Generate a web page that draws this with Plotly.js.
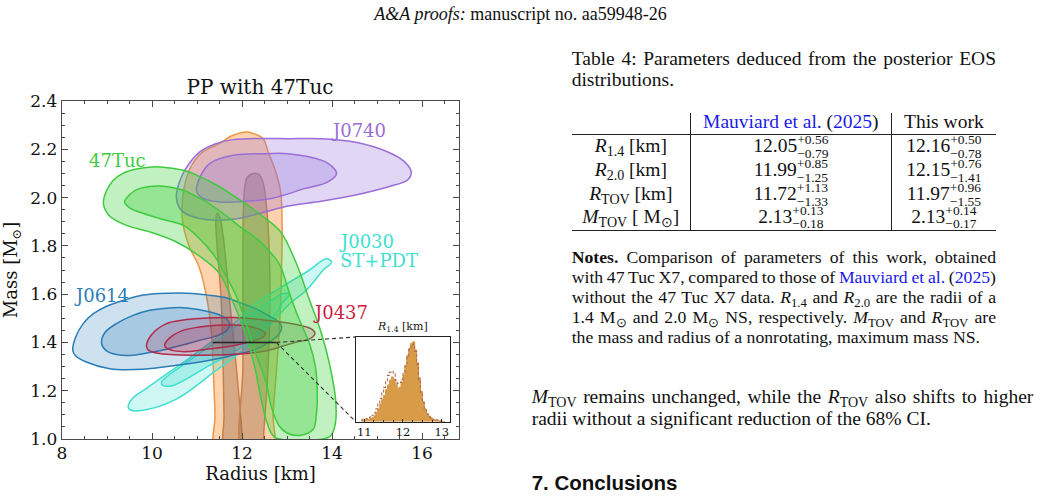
<!DOCTYPE html>
<html>
<head>
<meta charset="utf-8">
<script src="https://cdn.plot.ly/plotly-3.0.1.min.js"></script>
<style>
  html, body { margin: 0; padding: 0; background: #fff; }
  #page { position: relative; width: 1049px; height: 500px; overflow: hidden; background: #fff; }
  #chart { position: absolute; left: 0; top: 0; width: 1049px; height: 500px; }
  .txt { position: absolute; font-family: "Liberation Serif", "Times New Roman", serif; color: #111; white-space: nowrap; z-index: 2; }
  .center { text-align: center; }
  .sans { font-family: "Liberation Sans", Arial, sans-serif; font-weight: bold; }
  .txt sub { font-size: 0.72em; line-height: 0; vertical-align: -0.28em; }
  .link { color: #1a1ae6; }
  .rule { position: absolute; background: #222; z-index: 2; }
  .cell { position: absolute; display: flex; justify-content: center; align-items: center; height: 30px;
          font-family: "Liberation Serif", "Times New Roman", serif; color: #111; white-space: nowrap; z-index: 2; }
  .cell .stack { display: inline-flex; flex-direction: column; font-size: 13.5px; line-height: 13.2px; margin-top: 1px; }
</style>
</head>
<body>
<div id="page"><div id="chart"></div></div>
<script>
// ---------- Mass-radius credible regions (radius in km, mass in solar masses) ----------
// EOS posterior, 95% region
const eosOuterR = [11.42, 11.40, 11.37, 11.32, 11.22, 11.05, 10.82, 10.68, 10.68, 10.75, 10.88, 11.13, 11.43, 11.80, 12.10, 12.30, 12.47, 12.58, 12.76, 12.86, 12.89, 12.88, 12.83, 12.75, 12.69, 12.67];
const eosOuterM = [0.95, 1.10, 1.24, 1.44, 1.58, 1.71, 1.80, 1.90, 2.00, 2.07, 2.133, 2.19, 2.217, 2.258, 2.272, 2.262, 2.244, 2.19, 2.10, 2.02, 1.88, 1.72, 1.46, 1.25, 1.10, 0.95];
// EOS posterior, 68% region (two lobes)
const eosInnerLeftR = [11.45, 11.52, 11.58, 11.65, 11.73, 11.82, 11.92, 12.00, 12.02, 11.62, 11.60, 11.58, 11.54, 11.48, 11.43, 11.42];
const eosInnerLeftM = [1.935, 1.91, 1.84, 1.72, 1.56, 1.40, 1.20, 1.02, 0.95, 0.95, 1.10, 1.30, 1.56, 1.72, 1.84, 1.91];
const eosInnerRightR = [12.25, 12.38, 12.47, 12.55, 12.60, 12.62, 12.60, 12.55, 12.48, 12.46, 12.02, 12.02, 12.02, 12.03, 12.06, 12.12];
const eosInnerRightM = [2.10, 2.095, 2.06, 1.95, 1.80, 1.60, 1.40, 1.20, 1.02, 0.95, 0.95, 1.30, 1.74, 1.95, 2.04, 2.085];

// 47 Tuc X7
const tucOuterR = [8.92, 8.98, 9.13, 9.35, 9.65, 10.00, 10.35, 10.70, 11.05, 11.45, 11.95, 12.40, 12.85, 13.20, 13.50, 13.76, 13.95, 14.08, 14.07, 13.95, 13.30, 12.72, 12.55, 12.43, 12.28, 12.05, 11.78, 11.50, 11.06, 10.50, 9.95, 9.43, 9.05];
const tucOuterM = [1.975, 2.025, 2.07, 2.10, 2.118, 2.127, 2.124, 2.113, 2.088, 2.05, 1.99, 1.93, 1.86, 1.73, 1.575, 1.44, 1.305, 1.16, 1.06, 1.01, 0.995, 1.008, 1.07, 1.16, 1.30, 1.45, 1.575, 1.685, 1.757, 1.82, 1.858, 1.885, 1.925];
const tucInnerR = [9.39, 9.50, 9.65, 9.90, 10.17, 10.45, 10.69, 10.95, 11.21, 11.58, 11.95, 12.32, 12.60, 12.84, 13.06, 13.26, 13.50, 13.63, 13.67, 13.65, 13.58, 13.28, 13.00, 12.82, 12.65, 12.54, 12.28, 11.91, 11.60, 11.36, 11.00, 10.70, 10.17, 9.80, 9.52];
const tucInnerM = [1.982, 2.012, 2.032, 2.045, 2.048, 2.042, 2.03, 2.008, 1.982, 1.934, 1.88, 1.83, 1.78, 1.72, 1.60, 1.50, 1.395, 1.30, 1.20, 1.10, 1.04, 1.015, 1.025, 1.055, 1.133, 1.23, 1.367, 1.575, 1.69, 1.765, 1.84, 1.885, 1.913, 1.935, 1.955];

// PSR J0740+6620
const j0740OuterR = [10.54, 10.60, 10.75, 11.06, 11.40, 11.80, 12.40, 13.02, 13.76, 14.50, 15.24, 15.60, 15.76, 15.69, 15.24, 14.50, 13.76, 13.02, 12.40, 11.80, 11.06, 10.65];
const j0740OuterM = [2.002, 2.06, 2.12, 2.189, 2.222, 2.24, 2.245, 2.244, 2.244, 2.23, 2.189, 2.15, 2.106, 2.075, 2.044, 2.01, 1.985, 1.965, 1.935, 1.91, 1.913, 1.947];
const j0740InnerR = [10.99, 11.08, 11.28, 11.80, 12.54, 13.02, 13.76, 14.02, 14.10, 13.91, 13.39, 12.65, 12.10, 11.50, 11.10];
const j0740InnerM = [2.03, 2.09, 2.141, 2.175, 2.182, 2.182, 2.155, 2.125, 2.099, 2.065, 2.037, 1.996, 1.985, 1.982, 2.0];

// PSR J0030+0451 (ST+PDT)
const j0030OuterR = [13.99, 13.80, 13.43, 13.06, 12.24, 11.43, 10.54, 9.80, 9.52, 9.47, 9.55, 9.87, 10.39, 10.76, 11.65, 12.32, 12.90, 13.50, 13.87];
const j0030OuterM = [1.733, 1.699, 1.616, 1.56, 1.40, 1.285, 1.165, 1.119, 1.12, 1.133, 1.165, 1.209, 1.278, 1.326, 1.45, 1.561, 1.632, 1.70, 1.747];
const j0030InnerR = [13.06, 12.90, 12.76, 12.10, 11.21, 10.47, 10.24, 10.21, 10.32, 10.62, 11.36, 12.24, 12.91];
const j0030InnerM = [1.60, 1.565, 1.519, 1.395, 1.298, 1.222, 1.222, 1.235, 1.257, 1.298, 1.395, 1.519, 1.602];

// PSR J0614-3329
const j0614OuterR = [8.24, 8.30, 8.47, 8.69, 8.99, 9.43, 9.80, 10.17, 10.60, 10.91, 11.21, 11.65, 11.95, 12.30, 12.60, 12.82, 12.88, 12.80, 12.50, 12.24, 11.80, 11.28, 10.54, 9.80, 9.06, 8.54, 8.30];
const j0614OuterM = [1.367, 1.42, 1.478, 1.518, 1.55, 1.578, 1.596, 1.603, 1.605, 1.603, 1.597, 1.585, 1.565, 1.54, 1.51, 1.485, 1.462, 1.43, 1.39, 1.367, 1.347, 1.326, 1.305, 1.289, 1.291, 1.319, 1.345];
const j0614InnerR = [8.88, 8.95, 9.21, 9.58, 9.95, 10.32, 10.69, 11.06, 11.43, 11.65, 11.73, 11.65, 11.40, 11.06, 10.70, 10.32, 9.95, 9.58, 9.21, 8.99];
const j0614InnerM = [1.395, 1.44, 1.478, 1.512, 1.533, 1.542, 1.544, 1.535, 1.519, 1.498, 1.475, 1.448, 1.425, 1.409, 1.39, 1.372, 1.358, 1.347, 1.35, 1.365];

// PSR J0437-4715
const j0437OuterR = [9.88, 9.98, 10.32, 10.70, 11.06, 11.80, 12.54, 13.28, 13.55, 13.62, 13.50, 13.21, 12.91, 12.54, 12.17, 11.06, 10.17, 9.95];
const j0437OuterM = [1.381, 1.43, 1.478, 1.493, 1.499, 1.503, 1.492, 1.471, 1.455, 1.437, 1.415, 1.402, 1.385, 1.365, 1.355, 1.347, 1.354, 1.365];
const j0437InnerR = [10.28, 10.40, 10.69, 11.06, 11.43, 11.80, 12.17, 12.42, 12.52, 12.45, 12.02, 11.60, 11.21, 10.80, 10.50, 10.33];
const j0437InnerM = [1.388, 1.42, 1.45, 1.464, 1.471, 1.472, 1.466, 1.452, 1.437, 1.42, 1.395, 1.38, 1.372, 1.362, 1.365, 1.375];

// R_1.4 interval marked at M = 1.4
const r14LineR = [11.35, 12.76];
const r14LineM = [1.4, 1.4];

// R_1.4 histograms (bin centres in km, normalised counts)
const r14BinCentres = [10.925, 10.975, 11.025, 11.075, 11.125, 11.175, 11.225, 11.275, 11.325, 11.375, 11.425, 11.475, 11.525, 11.575, 11.625, 11.675, 11.725, 11.775, 11.825, 11.875, 11.925, 11.975, 12.025, 12.075, 12.125, 12.175, 12.225, 12.275, 12.325, 12.375, 12.425, 12.475, 12.525, 12.575, 12.625, 12.675, 12.725, 12.775, 12.825, 12.875, 12.925, 12.975, 13.025, 13.075];
const r14WithTuc = [0.01, 0.02, 0.02, 0.03, 0.03, 0.04, 0.05, 0.07, 0.11, 0.16, 0.22, 0.28, 0.33, 0.40, 0.46, 0.52, 0.56, 0.53, 0.47, 0.42, 0.43, 0.49, 0.58, 0.70, 0.83, 0.92, 0.98, 1.00, 0.90, 0.74, 0.55, 0.38, 0.25, 0.16, 0.10, 0.07, 0.05, 0.03, 0.02, 0.02, 0.01, 0.01, 0.005, 0.0];
const r14WithoutTuc = [0.02, 0.03, 0.03, 0.04, 0.05, 0.06, 0.08, 0.11, 0.16, 0.22, 0.29, 0.36, 0.43, 0.51, 0.58, 0.62, 0.63, 0.60, 0.52, 0.48, 0.49, 0.53, 0.60, 0.70, 0.80, 0.90, 0.95, 0.97, 0.88, 0.72, 0.53, 0.37, 0.24, 0.15, 0.10, 0.06, 0.04, 0.03, 0.02, 0.02, 0.01, 0.01, 0.0, 0.0];

// ---------- Table 4 values ----------
const tableRowLabels = ['<i>R</i><sub>1.4</sub> [km]', '<i>R</i><sub>2.0</sub> [km]', '<i>R</i><sub>TOV</sub> [km]', '<i>M</i><sub>TOV</sub> [ M<sub>⊙</sub>]'];
const mauviardValues = ['12.05', '11.99', '11.72', '2.13'];
const mauviardPlus = ['+0.56', '+0.85', '+1.13', '+0.13'];
const mauviardMinus = ['−0.79', '−1.25', '−1.33', '−0.18'];
const thisWorkValues = ['12.16', '12.15', '11.97', '2.13'];
const thisWorkPlus = ['+0.50', '+0.76', '+0.96', '+0.14'];
const thisWorkMinus = ['−0.78', '−1.41', '−1.55', '−0.17'];

// ---------- Plot ----------
const closed = a => a.concat([a[0]]);
function region(R, M, edge, fill) {
  return {
    type: 'scatter', mode: 'lines', x: closed(R), y: closed(M),
    fill: 'toself', fillcolor: fill,
    line: { color: edge, width: 1.5, shape: 'spline', smoothing: 1 },
    hoverinfo: 'skip', showlegend: false, xaxis: 'x', yaxis: 'y'
  };
}

const C = {
  eos: '#ee9648', eosIn: '#c4814e', tuc: '#3ecb3e', j0740: '#9a6ed6',
  j0030: '#40e0d0', j0614: '#2a7db5', j0437: '#cf1a44', j0437Edge: '#b02a4c'
};

const xRange = [8, 16.82];
const yRange = [1.0, 2.4];
const insetX = [0.7398, 0.978];
const insetY = [0.0512, 0.3018];

// inset corners expressed in main-axis data units
const cornerR = xRange[0] + insetX[0] * (xRange[1] - xRange[0]);
const cornerTopM = yRange[0] + insetY[1] * (yRange[1] - yRange[0]);
const cornerBotM = yRange[0] + insetY[0] * (yRange[1] - yRange[0]);
const r14End = r14LineR[r14LineR.length - 1];

const traces = [
  region(eosOuterR, eosOuterM, C.eos, 'rgba(255,140,40,0.38)'),
  region(eosInnerLeftR, eosInnerLeftM, C.eosIn, 'rgba(140,95,60,0.36)'),
  region(eosInnerRightR, eosInnerRightM, C.eosIn, 'rgba(140,95,60,0.36)'),
  region(j0030OuterR, j0030OuterM, C.j0030, 'rgba(64,224,208,0.25)'),
  region(j0030InnerR, j0030InnerM, C.j0030, 'rgba(64,224,208,0.28)'),
  region(j0740OuterR, j0740OuterM, C.j0740, 'rgba(147,112,219,0.28)'),
  region(j0740InnerR, j0740InnerM, C.j0740, 'rgba(147,112,219,0.28)'),
  region(j0614OuterR, j0614OuterM, C.j0614, 'rgba(31,119,180,0.22)'),
  region(j0614InnerR, j0614InnerM, C.j0614, 'rgba(31,119,180,0.22)'),
  region(j0437OuterR, j0437OuterM, C.j0437Edge, 'rgba(180,20,60,0.18)'),
  region(j0437InnerR, j0437InnerM, C.j0437Edge, 'rgba(180,20,60,0.18)'),
  region(tucOuterR, tucOuterM, C.tuc, 'rgba(50,205,50,0.30)'),
  region(tucInnerR, tucInnerM, C.tuc, 'rgba(50,205,50,0.30)'),
  { type: 'scatter', mode: 'lines', x: r14LineR, y: r14LineM, line: { color: '#222', width: 1.5 },
    hoverinfo: 'skip', showlegend: false },
  { type: 'scatter', mode: 'lines', x: [r14End, cornerR, null, r14End, cornerR], y: [1.4, cornerTopM, null, 1.4, cornerBotM],
    line: { color: '#333', width: 1.1, dash: '4px,3px' }, connectgaps: false, hoverinfo: 'skip', showlegend: false },
  { type: 'scatter', mode: 'lines', x: r14BinCentres, y: r14WithTuc, xaxis: 'x2', yaxis: 'y2',
    fill: 'tozeroy', fillcolor: 'rgba(214,150,62,0.95)', line: { color: '#d6963e', width: 1, shape: 'hvh' },
    hoverinfo: 'skip', showlegend: false },
  { type: 'scatter', mode: 'lines', x: r14BinCentres, y: r14WithoutTuc, xaxis: 'x2', yaxis: 'y2',
    line: { color: '#b06a52', width: 1.1, dash: '3px,2px', shape: 'hvh' },
    hoverinfo: 'skip', showlegend: false }
];

const axisCol = '#4a4a4a';
const serif = 'DejaVu Serif';
function label(text, x, y, color, xanchor) {
  return { text: text, x: x, y: y, xref: 'x', yref: 'y', showarrow: false, xanchor: xanchor || 'center', yanchor: 'middle',
           font: { family: serif, size: 18, color: color } };
}

const layout = {
  width: 1049, height: 500,
  margin: { l: 62, r: 590, t: 101, b: 61, pad: 0 },
  paper_bgcolor: 'rgba(0,0,0,0)', plot_bgcolor: '#fff',
  font: { family: serif, color: '#1a1a1a' },
  title: { text: 'PP with 47Tuc', font: { family: serif, size: 20, color: '#111' },
           xref: 'container', yref: 'container', x: 0.2479, y: 0.8266, xanchor: 'center', yanchor: 'middle' },
  xaxis: {
    range: xRange, tick0: 8, dtick: 2, ticks: 'inside', ticklen: 6, tickwidth: 1, tickcolor: axisCol,
    showline: true, linecolor: axisCol, linewidth: 1.3, mirror: 'allticks', showgrid: false, zeroline: false,
    tickfont: { family: serif, size: 17, color: '#111' }, ticklabelstandoff: -2,
    minor: { dtick: 0.5, ticks: 'inside', ticklen: 3, tickwidth: 1, tickcolor: axisCol, showgrid: false },
    title: { text: 'Radius [km]', font: { family: serif, size: 18, color: '#111' }, standoff: 0 },
    fixedrange: true
  },
  yaxis: {
    range: yRange, tick0: 1, dtick: 0.2, tickformat: '.1f', ticks: 'inside', ticklen: 6, tickwidth: 1, tickcolor: axisCol,
    showline: true, linecolor: axisCol, linewidth: 1.3, mirror: 'allticks', showgrid: false, zeroline: false,
    tickfont: { family: serif, size: 17, color: '#111' },
    minor: { dtick: 0.05, ticks: 'inside', ticklen: 3, tickwidth: 1, tickcolor: axisCol, showgrid: false },
    title: { text: 'Mass [M<sub>⊙</sub>]', font: { family: serif, size: 18, color: '#111' }, standoff: 8 },
    fixedrange: true
  },
  xaxis2: {
    domain: insetX, anchor: 'y2', range: [10.78, 13.22], tickvals: [11, 12, 13], ticks: 'inside', ticklen: 3,
    tickcolor: '#333', showline: true, mirror: true, linecolor: '#222', linewidth: 1, showgrid: false, zeroline: false,
    tickfont: { family: serif, size: 11.5, color: '#111' },
    minor: { dtick: 0.25, ticks: 'inside', ticklen: 2, tickcolor: '#333', showgrid: false }, fixedrange: true
  },
  yaxis2: {
    domain: insetY, anchor: 'x2', range: [0, 1.06], showticklabels: false, ticks: '', showline: true, mirror: true,
    linecolor: '#222', linewidth: 1, showgrid: false, zeroline: false, fixedrange: true
  },
  annotations: [
    label('47Tuc', 9.23, 2.155, C.tuc),
    label('J0740', 14.58, 2.276, C.j0740),
    label('J0030', 14.11, 1.816, C.j0030, 'left'),
    label('ST+PDT', 14.13, 1.740, C.j0030, 'left'),
    label('J0614', 8.88, 1.595, C.j0614),
    label('J0437', 14.19, 1.524, C.j0437),
    { text: '<i>R</i><sub>1.4</sub> [km]', xref: 'x2 domain', yref: 'y2 domain', x: 0.5, y: 1.01,
      xanchor: 'center', yanchor: 'bottom', showarrow: false, font: { family: serif, size: 11, color: '#222' } }
  ]
};

Plotly.newPlot('chart', traces, layout, { staticPlot: true, displayModeBar: false });

// ---------- Manuscript text ----------
const page = document.getElementById('page');
function place(html, left, cy, width, fs, lh, cls) {
  const d = document.createElement('div');
  d.className = 'txt' + (cls ? ' ' + cls : '');
  d.style.left = left + 'px';
  d.style.top = (cy - lh / 2) + 'px';
  d.style.width = width + 'px';
  d.style.fontSize = fs + 'px';
  d.style.lineHeight = lh + 'px';
  d.innerHTML = html;
  page.appendChild(d);
  return d;
}
// spread a single line over the full column width by adjusting word spacing
function justified(html, left, cy, width, fs, lh) {
  const d = place('<span>' + html + '</span>', left, cy, width, fs, lh);
  const inner = d.firstChild;
  const natural = inner.getBoundingClientRect().width;
  const gaps = (inner.textContent.trim().match(/\s+/g) || []).length;
  if (gaps > 0) d.style.wordSpacing = ((width - natural) / gaps) + 'px';
  return d;
}
function rule(left, top, w, h) {
  const d = document.createElement('div');
  d.className = 'rule';
  Object.assign(d.style, { left: left + 'px', top: top + 'px', width: w + 'px', height: h + 'px' });
  page.appendChild(d);
}
function valueCell(left, width, cy, value, plus, minus) {
  const d = document.createElement('div');
  d.className = 'cell';
  Object.assign(d.style, { left: left + 'px', width: width + 'px', top: (cy - 15) + 'px', fontSize: '19.5px' });
  d.innerHTML = '<span>' + value + '</span><span class="stack"><span>' + plus + '</span><span>' + minus + '</span></span>';
  page.appendChild(d);
}

place('<i>A&amp;A proofs:</i> manuscript no. aa59948-26', 0, 14, 1041, 18, 20, 'center');

const tL = 571.7, tR = 996, tW = tR - tL;
justified('Table 4: Parameters deduced from the posterior EOS', tL, 58.3, tW, 19.5, 21);
place('distributions.', tL, 79.3, tW, 19.5, 21);

// table frame
const col1 = [tL, 690], col2 = [690, 891.7], col3 = [891.7, tR];
rule(col2[0] - 0.5, 112.7, 1.1, 118);
rule(col3[0] - 0.5, 112.7, 1.1, 118);
rule(tL, 133.7, tW, 1.2);
rule(tL, 230.1, tW, 1.2);

place('<span class="link">Mauviard et al.</span> (<span class="link">2025</span>)', col2[0], 121.7, col2[1] - col2[0], 19.5, 22, 'center');
place('This work', col3[0], 121.7, col3[1] - col3[0], 19.5, 22, 'center');

const rowCentres = [146, 170, 194, 216.7];
rowCentres.forEach((cy, i) => {
  place(tableRowLabels[i], col1[0], cy, col1[1] - col1[0], 19.5, 22, 'center');
  valueCell(col2[0], col2[1] - col2[0], cy, mauviardValues[i], mauviardPlus[i], mauviardMinus[i]);
  valueCell(col3[0], col3[1] - col3[0], cy, thisWorkValues[i], thisWorkPlus[i], thisWorkMinus[i]);
});

// table notes
const nFs = 17.7, nLh = 20;
justified('<b>Notes.</b> Comparison of parameters of this work, obtained', tL, 256.7, tW, nFs, nLh);
justified('with 47 Tuc X7, compared to those of <span class="link">Mauviard et al.</span> (<span class="link">2025</span>)', tL, 276.7, tW, nFs, nLh);
justified('without the 47 Tuc X7 data. <i>R</i><sub>1.4</sub> and <i>R</i><sub>2.0</sub> are the radii of a', tL, 296.7, tW, nFs, nLh);
justified('1.4 M<sub>⊙</sub> and 2.0 M<sub>⊙</sub> NS, respectively. <i>M</i><sub>TOV</sub> and <i>R</i><sub>TOV</sub> are', tL, 316.7, tW, nFs, nLh);
place('the mass and radius of a nonrotating, maximum mass NS.', tL, 336.7, tW, nFs, nLh);

// running text
const bL = 531.7, bW = 1033.3 - 531.7;
justified('<i>M</i><sub>TOV</sub> remains unchanged, while the <i>R</i><sub>TOV</sub> also shifts to higher', bL, 396.7, bW, 19.5, 21.6);
place('radii without a significant reduction of the 68% CI.', bL, 418.3, bW, 19.5, 21.6);
place('7. Conclusions', bL, 483.3, 300, 20.5, 24, 'sans');
</script>
</body>
</html>
